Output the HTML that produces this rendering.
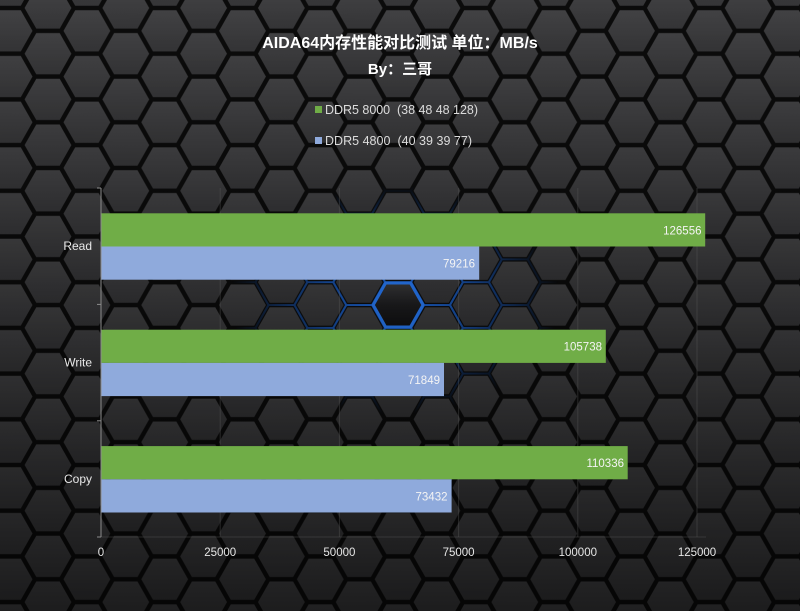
<!DOCTYPE html>
<html><head><meta charset="utf-8">
<style>
html,body{margin:0;padding:0;background:#0d0d0d;}
svg{display:block;}
text{font-family:"Liberation Sans","Noto Sans CJK SC",sans-serif;}
</style></head>
<body>
<svg width="800" height="611" viewBox="0 0 800 611" xmlns="http://www.w3.org/2000/svg">
<defs>
  <linearGradient id="fg" x1="0" y1="0" x2="0" y2="1">
    <stop offset="0" stop-color="#424244"/>
    <stop offset="1" stop-color="#353537"/>
  </linearGradient>
  <pattern id="hx" patternUnits="userSpaceOnUse" x="48" y="53.7" width="77.8" height="45.7">
    <rect width="77.8" height="45.7" fill="#0b0b0b"/>
    <g fill="url(#fg)">
      <polygon points="23.4,0 11.7,20.6 -11.7,20.6 -23.4,0 -11.7,-20.6 11.7,-20.6"/>
      <polygon points="101.2,0 89.5,20.6 66.1,20.6 54.4,0 66.1,-20.6 89.5,-20.6"/>
      <polygon points="23.4,45.7 11.7,66.3 -11.7,66.3 -23.4,45.7 -11.7,25.1 11.7,25.1"/>
      <polygon points="101.2,45.7 89.5,66.3 66.1,66.3 54.4,45.7 66.1,25.1 89.5,25.1"/>
      <polygon points="62.3,22.85 50.6,43.45 27.2,43.45 15.5,22.85 27.2,2.25 50.6,2.25"/>
    </g>
  </pattern>
  <pattern id="hb" patternUnits="userSpaceOnUse" x="48" y="53.7" width="77.8" height="45.7">
    <g fill="none" stroke="#1f6fea" stroke-width="2">
      <polygon points="25.93,0 12.97,22.85 -12.97,22.85 -25.93,0 -12.97,-22.85 12.97,-22.85"/>
      <polygon points="103.73,0 90.77,22.85 64.83,22.85 51.87,0 64.83,-22.85 90.77,-22.85"/>
      <polygon points="25.93,45.7 12.97,68.55 -12.97,68.55 -25.93,45.7 -12.97,22.85 12.97,22.85"/>
      <polygon points="103.73,45.7 90.77,68.55 64.83,68.55 51.87,45.7 64.83,22.85 90.77,22.85"/>
      <polygon points="64.83,22.85 51.87,45.7 25.93,45.7 12.97,22.85 25.93,0 51.87,0"/>
    </g>
  </pattern>
  <linearGradient id="shade" x1="0" y1="0" x2="0" y2="1">
    <stop offset="0" stop-color="#000" stop-opacity="0"/>
    <stop offset="0.5" stop-color="#000" stop-opacity="0.22"/>
    <stop offset="1" stop-color="#000" stop-opacity="0.5"/>
  </linearGradient>
  <radialGradient id="rg">
    <stop offset="0" stop-color="#fff" stop-opacity="1"/>
    <stop offset="0.45" stop-color="#fff" stop-opacity="0.7"/>
    <stop offset="1" stop-color="#fff" stop-opacity="0"/>
  </radialGradient>
  <mask id="gm">
    <ellipse cx="395" cy="300" rx="165" ry="115" fill="url(#rg)"/>
  </mask>
  <linearGradient id="ch" x1="0" y1="0" x2="0" y2="1">
    <stop offset="0" stop-color="#3c3c3e"/>
    <stop offset="0.5" stop-color="#1e1e20"/>
    <stop offset="1" stop-color="#101012"/>
  </linearGradient>
</defs>

<!-- background -->
<rect width="800" height="611" fill="url(#hx)"/>
<rect width="800" height="611" fill="url(#hb)" mask="url(#gm)"/>
<!-- center hex -->
<polygon points="423,305 410.5,327 385.6,327 373.2,305 385.6,283 410.5,283" fill="url(#ch)" stroke="#2a7fff" stroke-width="3"/>
<rect width="800" height="611" fill="url(#shade)"/>

<!-- gridlines -->
<g stroke="#5a5a5a" stroke-opacity="0.4" stroke-width="1">
  <line x1="220.2" y1="188" x2="220.2" y2="537"/>
  <line x1="339.4" y1="188" x2="339.4" y2="537"/>
  <line x1="458.6" y1="188" x2="458.6" y2="537"/>
  <line x1="577.8" y1="188" x2="577.8" y2="537"/>
  <line x1="697" y1="188" x2="697" y2="537"/>
  <line x1="101" y1="537" x2="706" y2="537"/>
</g>

<!-- title -->
<text x="400" y="48" text-anchor="middle" font-size="16" font-weight="bold" fill="#ffffff">AIDA64内存性能对比测试 单位：MB/s</text>
<text x="400" y="74" text-anchor="middle" font-size="15" font-weight="bold" fill="#ffffff">By：三哥</text>

<!-- legend -->
<rect x="315" y="106" width="7" height="7" fill="#70ad47"/>
<text x="325" y="114" font-size="12.5" fill="#dcdcdc" textLength="153" lengthAdjust="spacing" xml:space="preserve">DDR5 8000  (38 48 48 128)</text>
<rect x="315" y="137" width="7" height="7" fill="#8faadc"/>
<text x="325" y="145" font-size="12.5" fill="#dcdcdc" textLength="147" lengthAdjust="spacing" xml:space="preserve">DDR5 4800  (40 39 39 77)</text>

<!-- bars -->
<rect x="101.5" y="213.3" width="603.7" height="33.2" fill="#70ad47"/>
<rect x="101.5" y="246.5" width="377.7" height="33.2" fill="#8faadc"/>
<rect x="101.5" y="329.7" width="504.3" height="33.2" fill="#70ad47"/>
<rect x="101.5" y="362.9" width="342.5" height="33.2" fill="#8faadc"/>
<rect x="101.5" y="446.1" width="526.2" height="33.2" fill="#70ad47"/>
<rect x="101.5" y="479.3" width="350.1" height="33.2" fill="#8faadc"/>

<!-- value labels -->
<g font-size="11.5" fill="#f4f4f4" text-anchor="end">
  <text x="701.5" y="234.3">126556</text>
  <text x="475" y="267.5">79216</text>
  <text x="602" y="350.7">105738</text>
  <text x="440" y="383.9">71849</text>
  <text x="624" y="467.1">110336</text>
  <text x="447.5" y="500.3">73432</text>
</g>

<!-- axis -->
<g stroke="#8c8c8c" stroke-width="1">
  <line x1="101" y1="188" x2="101" y2="537"/>
  <line x1="97" y1="188" x2="101" y2="188"/>
  <line x1="97" y1="304.4" x2="101" y2="304.4"/>
  <line x1="97" y1="420.8" x2="101" y2="420.8"/>
  <line x1="97" y1="537" x2="101" y2="537"/>
</g>

<!-- category labels -->
<g font-size="12" fill="#e8e8e8" text-anchor="end">
  <text x="92" y="250">Read</text>
  <text x="92" y="366.4">Write</text>
  <text x="92" y="482.8">Copy</text>
</g>

<!-- tick labels -->
<g font-size="11.5" fill="#e6e6e6" text-anchor="middle">
  <text x="101" y="555.8">0</text>
  <text x="220.2" y="555.8">25000</text>
  <text x="339.4" y="555.8">50000</text>
  <text x="458.6" y="555.8">75000</text>
  <text x="577.8" y="555.8">100000</text>
  <text x="697" y="555.8">125000</text>
</g>
</svg>
</body></html>
